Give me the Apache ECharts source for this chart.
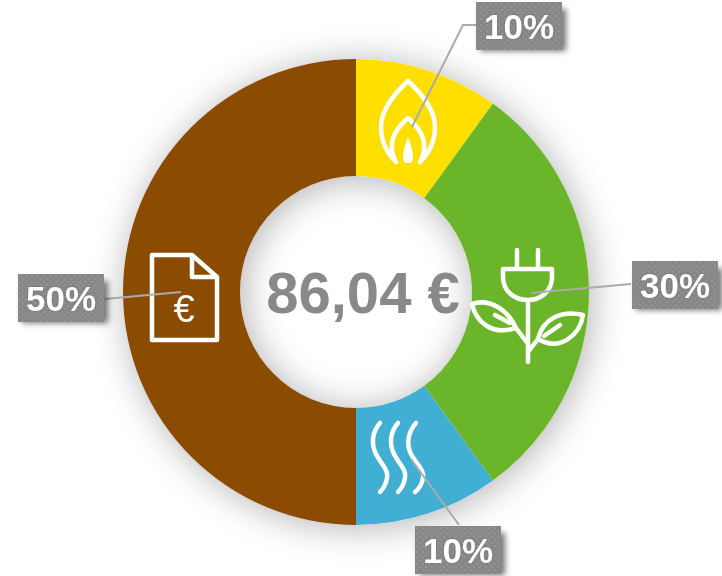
<!DOCTYPE html>
<html><head><meta charset="utf-8">
<style>html,body{margin:0;padding:0;background:#fff}#c{width:722px;height:576px}</style>
<script src="https://cdn.jsdelivr.net/npm/echarts@6/dist/echarts.min.js"></script>
</head><body><div id="c"></div>
<script>
const categories = ['Gas', 'Strom', 'Wärme', 'Rechnung'];
const values = [10, 30, 10, 50];
const colors = ['#FFDF00', '#6BB52B', '#41AED4', '#8B4B00'];
const centerText = '86,04 €';
const labelCenters = [[519, 26], [675, 285], [458, 550], [61, 298]];
const leaderPoints = [
  [[476, 25], [463, 25], [412, 127]],
  [[631, 284], [531, 293]],
  [[459, 525], [411, 459]],
  [[105, 299], [181, 292]]
];
const iconPaths = [
  'M396 162 C384 150 381 138 381 127 C381 110 395 93 408 81 C421 93 435 110 435 127 C435 138 432 150 420 162',
  'M396 162 C391 153 391 145 393 138 C396 130 402 123 408 118 C414 123 420 130 423 138 C425 145 425 153 420 162',
  'M517 250 V269 M538 250 V269 M503 269 H552 V277 C552 291 541 300 528 300 C514 300 503 291 503 277 Z M528 300 V362',
  'M528 344 L516 328 C508 310 490 298 472 304 C476 322 492 336 516 328 M495 315 L510 323',
  'M528 352 L538 339 C543 318 562 310 583 315 C580 335 560 352 538 339 M560 325 L544 336',
  'M152 255 H192 L217 277 V340 H152 Z M192 255 V277 H217',
  'M380 423 C372 432 371 444 376 454 C381 464 389 470 387 478 C386 484 383 489 380 492',
  'M398 423 C390 432 389 444 394 454 C399 464 407 470 405 478 C404 484 401 489 398 492',
  'M416 423 C408 432 406 444 411 454 C416 464 425 470 423 478 C422 484 419 489 415 492'
];
const dropPath = 'M408 137 C404 147 403 153 403 158 C403 162 405 163 408 163 C411 163 413 162 413 158 C413 153 412 147 408 137 Z';

iconPaths.forEach((p, i) => echarts.graphic.registerShape('icon' + i, echarts.graphic.extendPath(p)));
echarts.graphic.registerShape('drop', echarts.graphic.extendPath(dropPath));

function patternCanvas() {
  const cv = document.createElement('canvas');
  cv.width = 86; cv.height = 48;
  const g = cv.getContext('2d');
  g.fillStyle = '#878787';
  g.fillRect(0, 0, 86, 48);
  g.fillStyle = '#939393';
  for (let y = 1, r = 0; y < 48; y += 3, r++) {
    for (let x = (r % 2) ? 4 : 1; x < 86; x += 6) g.fillRect(x, y, 2, 2);
  }
  return cv;
}

const chart = echarts.init(document.getElementById('c'), null, {renderer: 'canvas'});
const center = [356, 292];
const radius = [116, 233];
const base = {type: 'pie', center, radius, startAngle: 90, clockwise: true, silent: true, animation: false};
const data = categories.map((n, i) => ({name: n, value: values[i]}));

const graphic = iconPaths.map((p, i) => ({
  type: 'icon' + i, z: 3, silent: true,
  style: {fill: null, stroke: '#fff', lineWidth: 4.5, lineCap: 'round', lineJoin: 'round'}
}));
graphic.push({type: 'drop', z: 3, silent: true, style: {fill: '#fff', stroke: null}});
graphic.push({type: 'text', z: 3, silent: true, x: 184, y: 312,
  style: {text: '€', fill: '#fff', font: '38px "Liberation Sans"', align: 'center', verticalAlign: 'middle'}});
graphic.push({type: 'text', z: 3, silent: true, x: 363, y: 297,
  style: {text: centerText, fill: '#898989', font: 'bold 58px "Liberation Sans"', align: 'center', verticalAlign: 'middle'}});

chart.setOption({
  animation: false,
  backgroundColor: '#fff',
  graphic,
  series: [
    Object.assign({}, base, {
      z: 1, label: {show: false}, labelLine: {show: false},
      data: [{name: 'shadow', value: values.reduce((a, b) => a + b, 0)}],
      itemStyle: {color: '#fff', shadowBlur: 36, shadowColor: 'rgba(0,0,0,0.3)', shadowOffsetX: 3, shadowOffsetY: 3}
    }),
    Object.assign({}, base, {
      z: 2, label: {show: false}, labelLine: {show: false},
      data, itemStyle: {color: p => colors[p.dataIndex]}
    }),
    Object.assign({}, base, {
      z: 4, data,
      itemStyle: {color: 'rgba(0,0,0,0)'},
      label: {
        show: true, position: 'outside', formatter: '{p|{c}%}',
        backgroundColor: '#878787',
        shadowBlur: 6, shadowColor: 'rgba(0,0,0,0.55)', shadowOffsetX: 4, shadowOffsetY: 4,
        rich: {
          p: {
            width: 86, height: 42, lineHeight: 42, padding: [6, 0, 0, 0], align: 'center',
            color: '#fff', fontFamily: '"Liberation Sans"', fontWeight: 'bold', fontSize: 35,
            backgroundColor: {image: patternCanvas()},
            textShadowBlur: 2, textShadowColor: 'rgba(0,0,0,0.3)'
          }
        }
      },
      labelLine: {show: true, length: 5, length2: 5, smooth: false, lineStyle: {color: '#ababab', width: 2}},
      labelLayout: p => ({
        x: labelCenters[p.dataIndex][0], y: labelCenters[p.dataIndex][1],
        align: 'center', verticalAlign: 'middle',
        labelLinePoints: leaderPoints[p.dataIndex]
      })
    })
  ]
});
</script></body></html>
